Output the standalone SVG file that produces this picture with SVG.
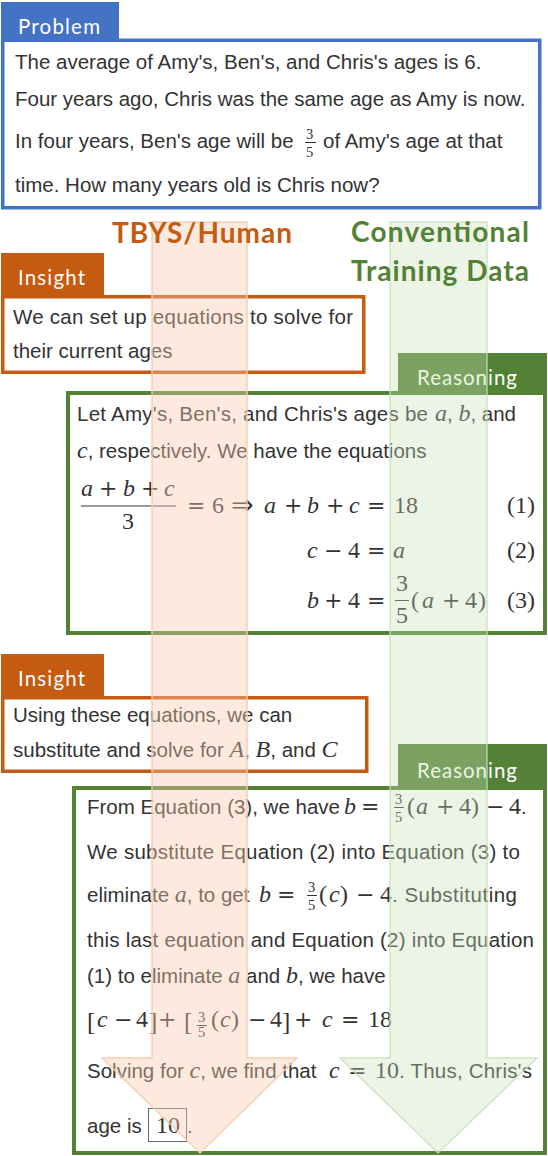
<svg xmlns="http://www.w3.org/2000/svg" width="548" height="1156" viewBox="0 0 548 1156">
<style>
.t{font-family:"Liberation Sans",Arial,sans-serif;font-size:20.5px;fill:#333}
.m{font-family:"Liberation Serif","Times New Roman",serif;font-size:24px;fill:#333}
.op{font-family:"DejaVu Serif","Liberation Serif",serif;font-size:22px;fill:#333}
.ar{font-family:"DejaVu Sans",sans-serif;font-size:27px;fill:#333}
.i{font-style:italic}
.f{font-family:"Liberation Serif","Times New Roman",serif;font-size:14.5px;fill:#333}
.br{font-family:"Liberation Serif","Times New Roman",serif;font-size:25px;fill:#333}
.lab{font-family:Lato,"Open Sans",sans-serif;font-size:20.5px;fill:#fff}
.ttl{font-family:Lato,"Open Sans",sans-serif;font-weight:bold;font-size:28px}
.bar{stroke:#333;stroke-width:1}
.box{fill:#fff;stroke-width:3.5}
.rbox{fill:#fff;stroke:#538135;stroke-width:4}
</style>

<g id="problem">
  <rect x="1" y="2" width="118" height="38" fill="#4472C4"/>
  <rect class="box" x="2.75" y="40.25" width="537" height="167.5" stroke="#4472C4"/>
  <text class="lab" x="18" y="34" textLength="82">Problem</text>
  <text class="t" x="15" y="68.5">The average of Amy's, Ben's, and Chris's ages is 6.</text>
  <text class="t" x="15" y="106">Four years ago, Chris was the same age as Amy is now.</text>
  <text class="t" x="15" y="147.5">In four years, Ben's age will be</text>
  <text class="f" x="306" y="139">3</text>
  <line class="bar" x1="305" y1="142.5" x2="316" y2="142.5"/>
  <text class="f" x="306" y="157">5</text>
  <text class="t" x="323" y="147.5">of Amy's age at that</text>
  <text class="t" x="15" y="192">time. How many years old is Chris now?</text>
</g>

<g id="insight1">
  <rect x="1" y="253" width="103" height="44" fill="#C55A11"/>
  <rect class="box" x="2.75" y="296.75" width="361" height="75.5" stroke="#C55A11"/>
  <text class="lab" x="18" y="285" textLength="67">Insight</text>
  <text class="t" x="13" y="324" textLength="340">We can set up equations to solve for</text>
  <text class="t" x="13" y="358">their current ages</text>
</g>

<g id="reasoning1">
  <rect x="398" y="353" width="149" height="40" fill="#538135"/>
  <rect class="rbox" x="68" y="393" width="477" height="240"/>
  <text class="lab" x="417" y="385" textLength="100">Reasoning</text>
  <text class="t" x="77" y="421"><tspan textLength="351">Let Amy's, Ben's, and Chris's ages be</tspan><tspan class="m i" x="435">a</tspan>, <tspan class="m i">b</tspan>, and</text>
  <text class="t" x="77" y="458"><tspan class="m i">c</tspan>, respectively. We have the equations</text>
  <!-- eq 1 -->
  <text class="m" y="496"><tspan class="i" x="81">a</tspan><tspan class="op" x="99">+</tspan><tspan class="i" x="123">b</tspan><tspan class="op" x="141">+</tspan><tspan class="i" x="164">c</tspan></text>
  <line class="bar" x1="81" y1="506" x2="176" y2="506"/>
  <text class="m" x="122" y="529">3</text>
  <text class="m" y="513"><tspan class="op" x="187">=</tspan><tspan x="212">6</tspan><tspan class="ar" x="231" dy="1">⇒</tspan><tspan class="i" x="264" dy="-1">a</tspan><tspan class="op" x="284">+</tspan><tspan class="i" x="307">b</tspan><tspan class="op" x="326">+</tspan><tspan class="i" x="349">c</tspan><tspan class="op" x="367">=</tspan><tspan x="394">18</tspan></text>
  <text class="m" x="507" y="513">(1)</text>
  <!-- eq 2 -->
  <text class="m" y="558"><tspan class="i" x="307">c</tspan><tspan class="op" x="324">−</tspan><tspan x="348">4</tspan><tspan class="op" x="367">=</tspan><tspan class="i" x="393">a</tspan></text>
  <text class="m" x="507" y="558">(2)</text>
  <!-- eq 3 -->
  <text class="m" y="608"><tspan class="i" x="307">b</tspan><tspan class="op" x="324">+</tspan><tspan x="348">4</tspan><tspan class="op" x="367">=</tspan></text>
  <text class="m" x="396" y="591">3</text>
  <line class="bar" x1="395" y1="600.5" x2="409" y2="600.5"/>
  <text class="m" x="396" y="623">5</text>
  <text class="m" y="608"><tspan x="411">(</tspan><tspan class="i" x="422">a</tspan><tspan class="op" x="442">+</tspan><tspan x="465">4</tspan><tspan x="478">)</tspan></text>
  <text class="m" x="507" y="608">(3)</text>
</g>

<g id="insight2">
  <rect x="1" y="654" width="103" height="44" fill="#C55A11"/>
  <rect class="box" x="2.75" y="697.75" width="364" height="73.5" stroke="#C55A11"/>
  <text class="lab" x="18" y="686" textLength="67">Insight</text>
  <text class="t" x="13" y="722">Using these equations, we can</text>
  <text class="t" x="13" y="757">substitute and solve for <tspan class="m i">A</tspan>, <tspan class="m i">B</tspan>, and <tspan class="m i">C</tspan></text>
</g>

<g id="reasoning2">
  <rect x="398" y="744" width="149" height="44" fill="#538135"/>
  <rect class="rbox" x="74" y="788" width="471" height="365"/>
  <text class="lab" x="417" y="778" textLength="100">Reasoning</text>
  <!-- line 1 -->
  <text class="t" x="87" y="814">From Equation (3), we have</text>
  <text class="m" y="814"><tspan class="i" x="344">b</tspan><tspan class="op" x="361">=</tspan></text>
  <text class="f" x="395" y="804">3</text>
  <line class="bar" x1="394" y1="807.5" x2="404" y2="807.5"/>
  <text class="f" x="395" y="822">5</text>
  <text class="m" y="814"><tspan x="407">(</tspan><tspan class="i" x="416">a</tspan><tspan class="op" x="436">+</tspan><tspan x="459">4</tspan><tspan x="471">)</tspan><tspan class="op" x="486">−</tspan><tspan x="509">4</tspan></text>
  <text class="t" x="521" y="814">.</text>
  <!-- line 2 -->
  <text class="t" x="87" y="859" textLength="433">We substitute Equation (2) into Equation (3) to</text>
  <!-- line 3 -->
  <text class="t" x="87" y="902">eliminate <tspan class="m i">a</tspan>, to get</text>
  <text class="m" y="902"><tspan class="i" x="259">b</tspan><tspan class="op" x="277">=</tspan></text>
  <text class="f" x="308" y="892">3</text>
  <line class="bar" x1="307" y1="895.5" x2="317" y2="895.5"/>
  <text class="f" x="308" y="910">5</text>
  <text class="m" y="902"><tspan x="319">(</tspan><tspan class="i" x="329">c</tspan><tspan x="340">)</tspan><tspan class="op" x="356">−</tspan><tspan x="380">4</tspan></text>
  <text class="t" x="392" y="902" textLength="125">. Substituting</text>
  <!-- line 4 -->
  <text class="t" x="87" y="947" textLength="447">this last equation and Equation (2) into Equation</text>
  <!-- line 5 -->
  <text class="t" x="87" y="983">(1) to eliminate <tspan class="m i">a</tspan> and <tspan class="m i">b</tspan>, we have</text>
  <!-- line 6 -->
  <text class="br" x="87" y="1030">[</text>
  <text class="m" y="1027"><tspan class="i" x="97">c</tspan><tspan class="op" x="114">−</tspan><tspan x="136">4</tspan></text>
  <text class="br" x="149" y="1030">]</text>
  <text class="m" y="1027"><tspan class="op" x="158">+</tspan></text>
  <text class="br" x="184" y="1030">[</text>
  <text class="f" x="198" y="1022">3</text>
  <line class="bar" x1="197" y1="1025.5" x2="207" y2="1025.5"/>
  <text class="f" x="198" y="1037">5</text>
  <text class="m" y="1027"><tspan x="211">(</tspan><tspan class="i" x="220">c</tspan><tspan x="231">)</tspan><tspan class="op" x="248">−</tspan><tspan x="270">4</tspan></text>
  <text class="br" x="282" y="1030">]</text>
  <text class="m" y="1027"><tspan class="op" x="294">+</tspan><tspan class="i" x="322">c</tspan><tspan class="op" x="341">=</tspan><tspan x="368">18</tspan></text>
  <!-- line 7 -->
  <text class="t" x="87" y="1078">Solving for <tspan class="m i">c</tspan>, we find that</text>
  <text class="m" y="1078"><tspan class="i" x="329">c</tspan><tspan class="op" x="348">=</tspan><tspan x="375">10</tspan></text>
  <text class="t" x="399" y="1078" textLength="133">. Thus, Chris's</text>
  <!-- line 8 -->
  <text class="t" x="87" y="1133">age is</text>
  <rect x="148.5" y="1108.5" width="38" height="33" fill="none" stroke="#666" stroke-width="1"/>
  <text class="m" x="156" y="1133">10</text>
  <text class="t" x="187" y="1133">.</text>
</g>

<g id="connectors">
  <polygon id="arrow-tbys" points="152,222 247,222 247,1058 297,1058 200,1153 102,1058 152,1058" fill="#F8CBAD" fill-opacity="0.4" stroke="#F8CBAD" stroke-opacity="0.9" stroke-width="1.5"/>
  <polygon id="arrow-conv" points="390,222 487,222 487,1058 537,1058 438,1153 340,1058 390,1058" fill="#C5E0B4" fill-opacity="0.35" stroke="#C5E0B4" stroke-opacity="0.8" stroke-width="1.5"/>
</g>

<g id="titles">
  <text class="ttl" x="112" y="243" fill="#C55A11" textLength="180">TBYS/Human</text>
  <text class="ttl" x="351" y="242" fill="#538135" textLength="178">Conventional</text>
  <text class="ttl" x="351" y="281" fill="#538135" textLength="178">Training Data</text>
</g>
</svg>
